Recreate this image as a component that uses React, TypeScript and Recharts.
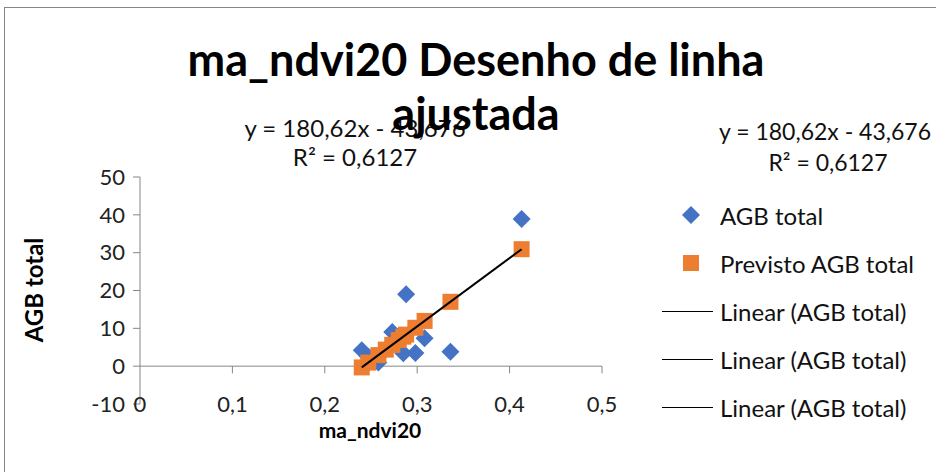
import { ScatterChart, Scatter, XAxis, YAxis, ReferenceLine } from "recharts";

// valores
const ndvi = [0.24, 0.247, 0.258, 0.266, 0.273, 0.28, 0.285, 0.288, 0.298, 0.308, 0.336, 0.413];
const agbTotal = [4.2, 2.5, 1.0, 4.5, 9.0, 8.0, 3.4, 19.0, 3.5, 7.4, 3.8, 38.9];
const agbPrevisto = [-0.33, 0.94, 2.92, 4.37, 5.63, 6.9, 7.8, 8.34, 10.15, 11.96, 17.01, 30.92];
const trendX = [0.24, 0.413];
const trendY = [-0.33, 30.92];
const xTicks = [0, 0.1, 0.2, 0.3, 0.4, 0.5];
const yTicks = [-10, 0, 10, 20, 30, 40, 50];
const legendLabels = ["AGB total", "Previsto AGB total", "Linear (AGB total)", "Linear (AGB total)", "Linear (AGB total)"];

const BLUE = "#4472C4";
const ORANGE = "#ED7D31";
const AXIS = "#868686";
const FONT = "Lato, 'Open Sans', sans-serif";

const agbData = ndvi.map((x, i) => ({ x, y: agbTotal[i] }));
const prevData = ndvi.map((x, i) => ({ x, y: agbPrevisto[i] }));
const trendData = trendX.map((x, i) => ({ x, y: trendY[i] }));

const fmt = (v: number) => String(v).replace(".", ",");

const Diamond = (p: any) => (
  <polygon
    points={`${p.cx},${p.cy - 9} ${p.cx + 9},${p.cy} ${p.cx},${p.cy + 9} ${p.cx - 9},${p.cy}`}
    fill={BLUE}
  />
);
const Square = (p: any) => <rect x={p.cx - 8} y={p.cy - 8} width={16} height={16} fill={ORANGE} />;

function XTick({ x, y, payload }: any) {
  return (
    <text x={x} y={y} dy="0.35em" textAnchor="middle" fontSize={22} fill="#222" fontFamily={FONT}>
      {fmt(payload.value)}
    </text>
  );
}

function LegendBox() {
  return (
    <div style={{ position: "absolute", left: 662, top: 191, fontFamily: FONT, fontSize: 24, color: "#111" }}>
      {legendLabels.map((label, i) => (
        <div key={i} style={{ display: "flex", alignItems: "center", height: 48 }}>
          <svg width={58} height={20} style={{ flex: "none" }}>
            {i === 0 && <polygon points="29,1 38,10 29,19 20,10" fill={BLUE} />}
            {i === 1 && <rect x={21} y={2} width={16} height={16} fill={ORANGE} />}
            {i > 1 && <line x1={0} x2={51} y1={10.5} y2={10.5} stroke="#000" strokeWidth={1} />}
          </svg>
          <span style={{ whiteSpace: "nowrap" }}>{label}</span>
        </div>
      ))}
    </div>
  );
}

export default function App() {
  return (
    <div style={{ position: "absolute", left: 0, top: 0, width: 936, height: 472, overflow: "hidden", background: "#fff" }}>
      <div style={{ position: "absolute", left: 4, top: 7, width: 960, height: 500, border: `1px solid ${AXIS}` }} />
      <div style={{ position: "absolute", left: 0, top: 0 }}>
        <ScatterChart width={936} height={472} margin={{ top: 177, right: 334, bottom: 38, left: 100 }}>
          <XAxis
            type="number"
            dataKey="x"
            domain={[0, 0.5]}
            ticks={xTicks}
            height={30}
            axisLine={false}
            tickLine={false}
            tickSize={0}
            tickMargin={0}
            tick={<XTick />}
          />
          <YAxis
            type="number"
            dataKey="y"
            domain={[-10, 50]}
            ticks={yTicks}
            width={40}
            stroke={AXIS}
            tickSize={7}
            tickMargin={8}
            tick={{ fontSize: 22, fill: "#222", fontFamily: FONT }}
          />
          <ReferenceLine y={0} stroke={AXIS} strokeWidth={1} />
          {xTicks.slice(1).map((t) => (
            <ReferenceLine key={t} segment={[{ x: t, y: 0 }, { x: t, y: -1.9 }]} stroke={AXIS} />
          ))}
          <Scatter name="AGB total" data={agbData} shape={Diamond} isAnimationActive={false} />
          <Scatter name="Previsto AGB total" data={prevData} shape={Square} isAnimationActive={false} />
          <Scatter
            name="Linear (AGB total)"
            data={trendData}
            line={{ stroke: "#000", strokeWidth: 2 }}
            lineType="joint"
            shape={() => <g />}
            isAnimationActive={false}
          />
        </ScatterChart>
      </div>
      <LegendBox />

      <div style={{ position: "absolute", left: 205, top: 113, width: 300, textAlign: "center", fontFamily: FONT, fontSize: 24, lineHeight: "29px", color: "#111" }}>
        y = 180,62x - 43,676
        <br />
        R² = 0,6127
      </div>
      <div style={{ position: "absolute", left: 700, top: 116, width: 256, textAlign: "center", fontFamily: FONT, fontSize: 23, lineHeight: "31px", color: "#111", whiteSpace: "nowrap" }}>
        <div style={{ textAlign: "left", paddingLeft: 19 }}>y = 180,62x - 43,676</div>
        <div>R² = 0,6127</div>
      </div>
      <div style={{ position: "absolute", left: 0, top: 32, width: 952, textAlign: "center", fontFamily: FONT, fontWeight: 700, fontSize: 45, lineHeight: "54px", color: "#000" }}>
        ma_ndvi20 Desenho de linha
        <br />
        ajustada
      </div>
      <div style={{ position: "absolute", left: 270, top: 417, width: 200, textAlign: "center", fontFamily: FONT, fontWeight: 700, fontSize: 21, lineHeight: "26px", color: "#000" }}>
        ma_ndvi20
      </div>
      <div style={{ position: "absolute", left: 33, top: 290, transform: "translate(-50%, -50%) rotate(-90deg)", whiteSpace: "nowrap", fontFamily: FONT, fontWeight: 700, fontSize: 24, color: "#000" }}>
        AGB total
      </div>
    </div>
  );
}
